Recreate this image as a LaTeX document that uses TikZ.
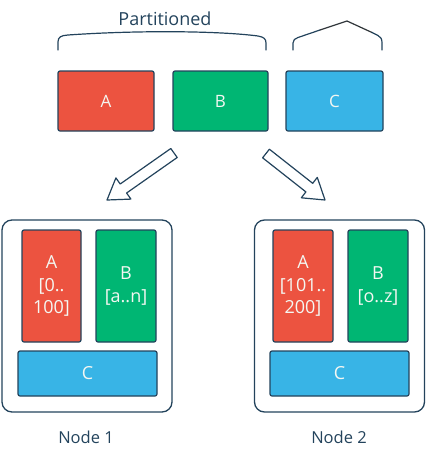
\documentclass[tikz,border=0pt]{standalone}
\usepackage{fontspec}
\setmainfont{Open Sans}
\definecolor{navy}{HTML}{23435C}
\definecolor{pred}{HTML}{EC5340}
\definecolor{pgreen}{HTML}{00B673}
\definecolor{pblue}{HTML}{38B4E6}
\definecolor{ptext}{HTML}{F4F7F2}
\definecolor{peak}{HTML}{2E3438}
\begin{document}
\begin{tikzpicture}[x=1pt,y=-1pt,
  part/.style={draw=navy,line width=1.2pt,rounded corners=2pt,inner sep=0pt,
    text=ptext,font=\fontsize{18}{22.5}\selectfont,align=center},
  redp/.style={part,fill=pred},
  greenp/.style={part,fill=pgreen},
  bluep/.style={part,fill=pblue},
  toppart/.style={font=\fontsize{17}{20}\selectfont},
  server/.style={draw=navy,line width=1.3pt,rounded corners=10pt,inner sep=0pt},
  lbl/.style={text=navy,font=\fontsize{16.5}{20}\selectfont,inner sep=0pt},
  brace/.style={draw=navy,line width=1.2pt,line cap=round,line join=round},
  blockarrow/.style={draw=navy,line width=1.2pt,fill=white,line join=round}]
\useasboundingbox (0,0) rectangle (426,456);
% top partitions
\node[redp,toppart,minimum width=96pt,minimum height=60pt] (ta) at (106,101) {A};
\node[greenp,toppart,minimum width=95pt,minimum height=60pt] (tb) at (220.5,101) {B};
\node[bluep,toppart,minimum width=97pt,minimum height=60pt] (tc) at (334.5,101) {C};
% braces
\draw[brace] (58,50) -- (58,42) .. controls (58,37) and (61,35.5) .. (68,35)
  .. controls (140,30) and (220,31) .. (258,36) .. controls (264,37) and (266,39) .. (266,43) -- (266,50);
\draw[brace] (293,50) -- (293,43) .. controls (293,40) and (295,38.5) .. (298,37.5)
  -- (320,30);
\draw[brace,draw=peak] (320,30) -- (347,21) -- (372,32.5);
\draw[brace] (372,32.5) -- (378,35.5) .. controls (381,37) and (382,39) .. (382,43) -- (382,50);
\node[lbl,font=\fontsize{18}{20}\selectfont] (title) at (165,19) {Partitioned};
% block arrows
\draw[blockarrow] (170.8,148.5) -- (177.2,157.5) -- (126.6,193.0) -- (130.9,199.1)
  -- (107,200) -- (115.9,177.9) -- (120.2,184.0) -- cycle;
\draw[blockarrow] (269.4,149.2) -- (312.7,183.3) -- (317.3,177.4) -- (325,200)
  -- (301.3,197.8) -- (305.9,191.9) -- (262.6,157.8) -- cycle;
% node 1
\node[server,minimum width=170pt,minimum height=192pt] (n1) at (87,316) {};
\node[redp,minimum width=59pt,minimum height=112pt] (a1) at (51.5,286) {A\\{[}0..\\100{]}};
\node[greenp,minimum width=60pt,minimum height=112pt] (b1) at (126,286) {B\\{[}a..n{]}};
\node[bluep,minimum width=139pt,minimum height=45pt] (c1) at (87.5,373.5) {C};
\node[lbl] (l1) at (86,437) {Node 1};
% node 2
\node[server,minimum width=170pt,minimum height=192pt] (n2) at (339.5,316) {};
\node[redp,minimum width=60pt,minimum height=112pt] (a2) at (303,286) {A\\{[}101..\\200{]}};
\node[greenp,minimum width=60pt,minimum height=112pt] (b2) at (378,286) {B\\{[}o..z{]}};
\node[bluep,minimum width=139pt,minimum height=45pt] (c2) at (339.5,373.5) {C};
\node[lbl] (l2) at (339,437) {Node 2};
\end{tikzpicture}
\end{document}
